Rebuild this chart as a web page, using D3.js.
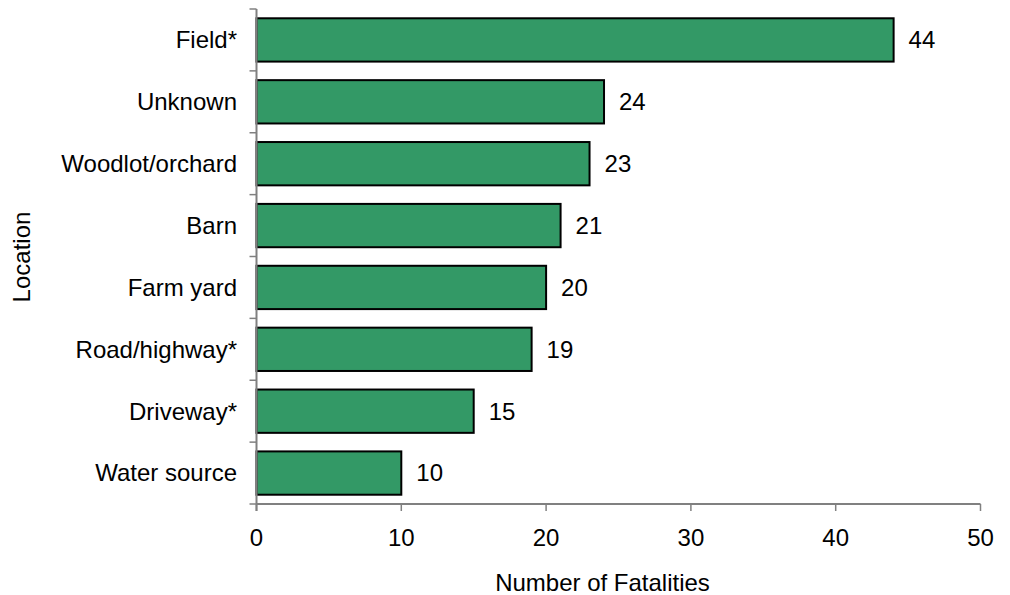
<!DOCTYPE html>
<html><head><meta charset="utf-8">
<script src="https://cdn.jsdelivr.net/npm/d3@7"></script>
<style>body{margin:0;background:#fff}svg{display:block}text{font-family:"Liberation Sans",Arial,sans-serif;fill:#000}</style>
</head><body>
<svg id="c" width="1010" height="595"></svg>
<script>
const categories = ["Field*","Unknown","Woodlot/orchard","Barn","Farm yard","Road/highway*","Driveway*","Water source"];
const values = [44,24,23,21,20,19,15,10];
const xTicks = [0,10,20,30,40,50];

(function(){
const svg = d3.select("#c");
const mL = 256.5, mR = 980.5, mT = 9, mB = 504;
const x = d3.scaleLinear().domain([0,50]).range([mL,mR]);
const y = d3.scaleBand().domain(categories).range([mT,mB]).paddingInner(0.3).paddingOuter(0.15);
const fs = 24;

svg.selectAll("rect.bar").data(categories).join("rect")
  .attr("x", x(0)).attr("y", d=>y(d))
  .attr("width", (d,i)=>x(values[i])-x(0)).attr("height", y.bandwidth())
  .attr("fill","#339966").attr("stroke","#000").attr("stroke-width",2);

svg.selectAll("text.val").data(categories).join("text")
  .attr("x",(d,i)=>x(values[i])+15).attr("y",d=>y(d)+y.bandwidth()/2)
  .attr("dy","0.35em").attr("font-size",fs).text((d,i)=>values[i]);

const step = (mB-mT)/categories.length;
const g = svg.append("g");
g.append("line").attr("x1",mL).attr("x2",mL).attr("y1",mT).attr("y2",mB+7).attr("stroke","#808080").attr("stroke-width",2);
d3.range(categories.length+1).forEach(i=>{
  g.append("line").attr("x1",mL-7).attr("x2",mL).attr("y1",mT+i*step).attr("y2",mT+i*step).attr("stroke","#808080").attr("stroke-width",1.5);
});
svg.selectAll("text.cat").data(categories).join("text")
  .attr("x",237).attr("y",d=>y(d)+y.bandwidth()/2).attr("dy","0.35em")
  .attr("text-anchor","end").attr("font-size",fs).text(d=>d);

g.append("line").attr("x1",mL).attr("x2",mR).attr("y1",mB).attr("y2",mB).attr("stroke","#808080").attr("stroke-width",2);
xTicks.forEach(t=>{
  g.append("line").attr("x1",x(t)).attr("x2",x(t)).attr("y1",mB).attr("y2",mB+7).attr("stroke","#808080").attr("stroke-width",1.5);
});
svg.selectAll("text.xt").data(xTicks).join("text")
  .attr("x",d=>x(d)).attr("y",546).attr("text-anchor","middle").attr("font-size",fs).text(d=>d);

svg.append("text").attr("x",(495+710)/2).attr("y",591).attr("text-anchor","middle").attr("font-size",24).text("Number of Fatalities");
svg.append("text").attr("transform","translate(30,257) rotate(-90)").attr("text-anchor","middle").attr("font-size",fs).text("Location");
})();
</script>
</body></html>
